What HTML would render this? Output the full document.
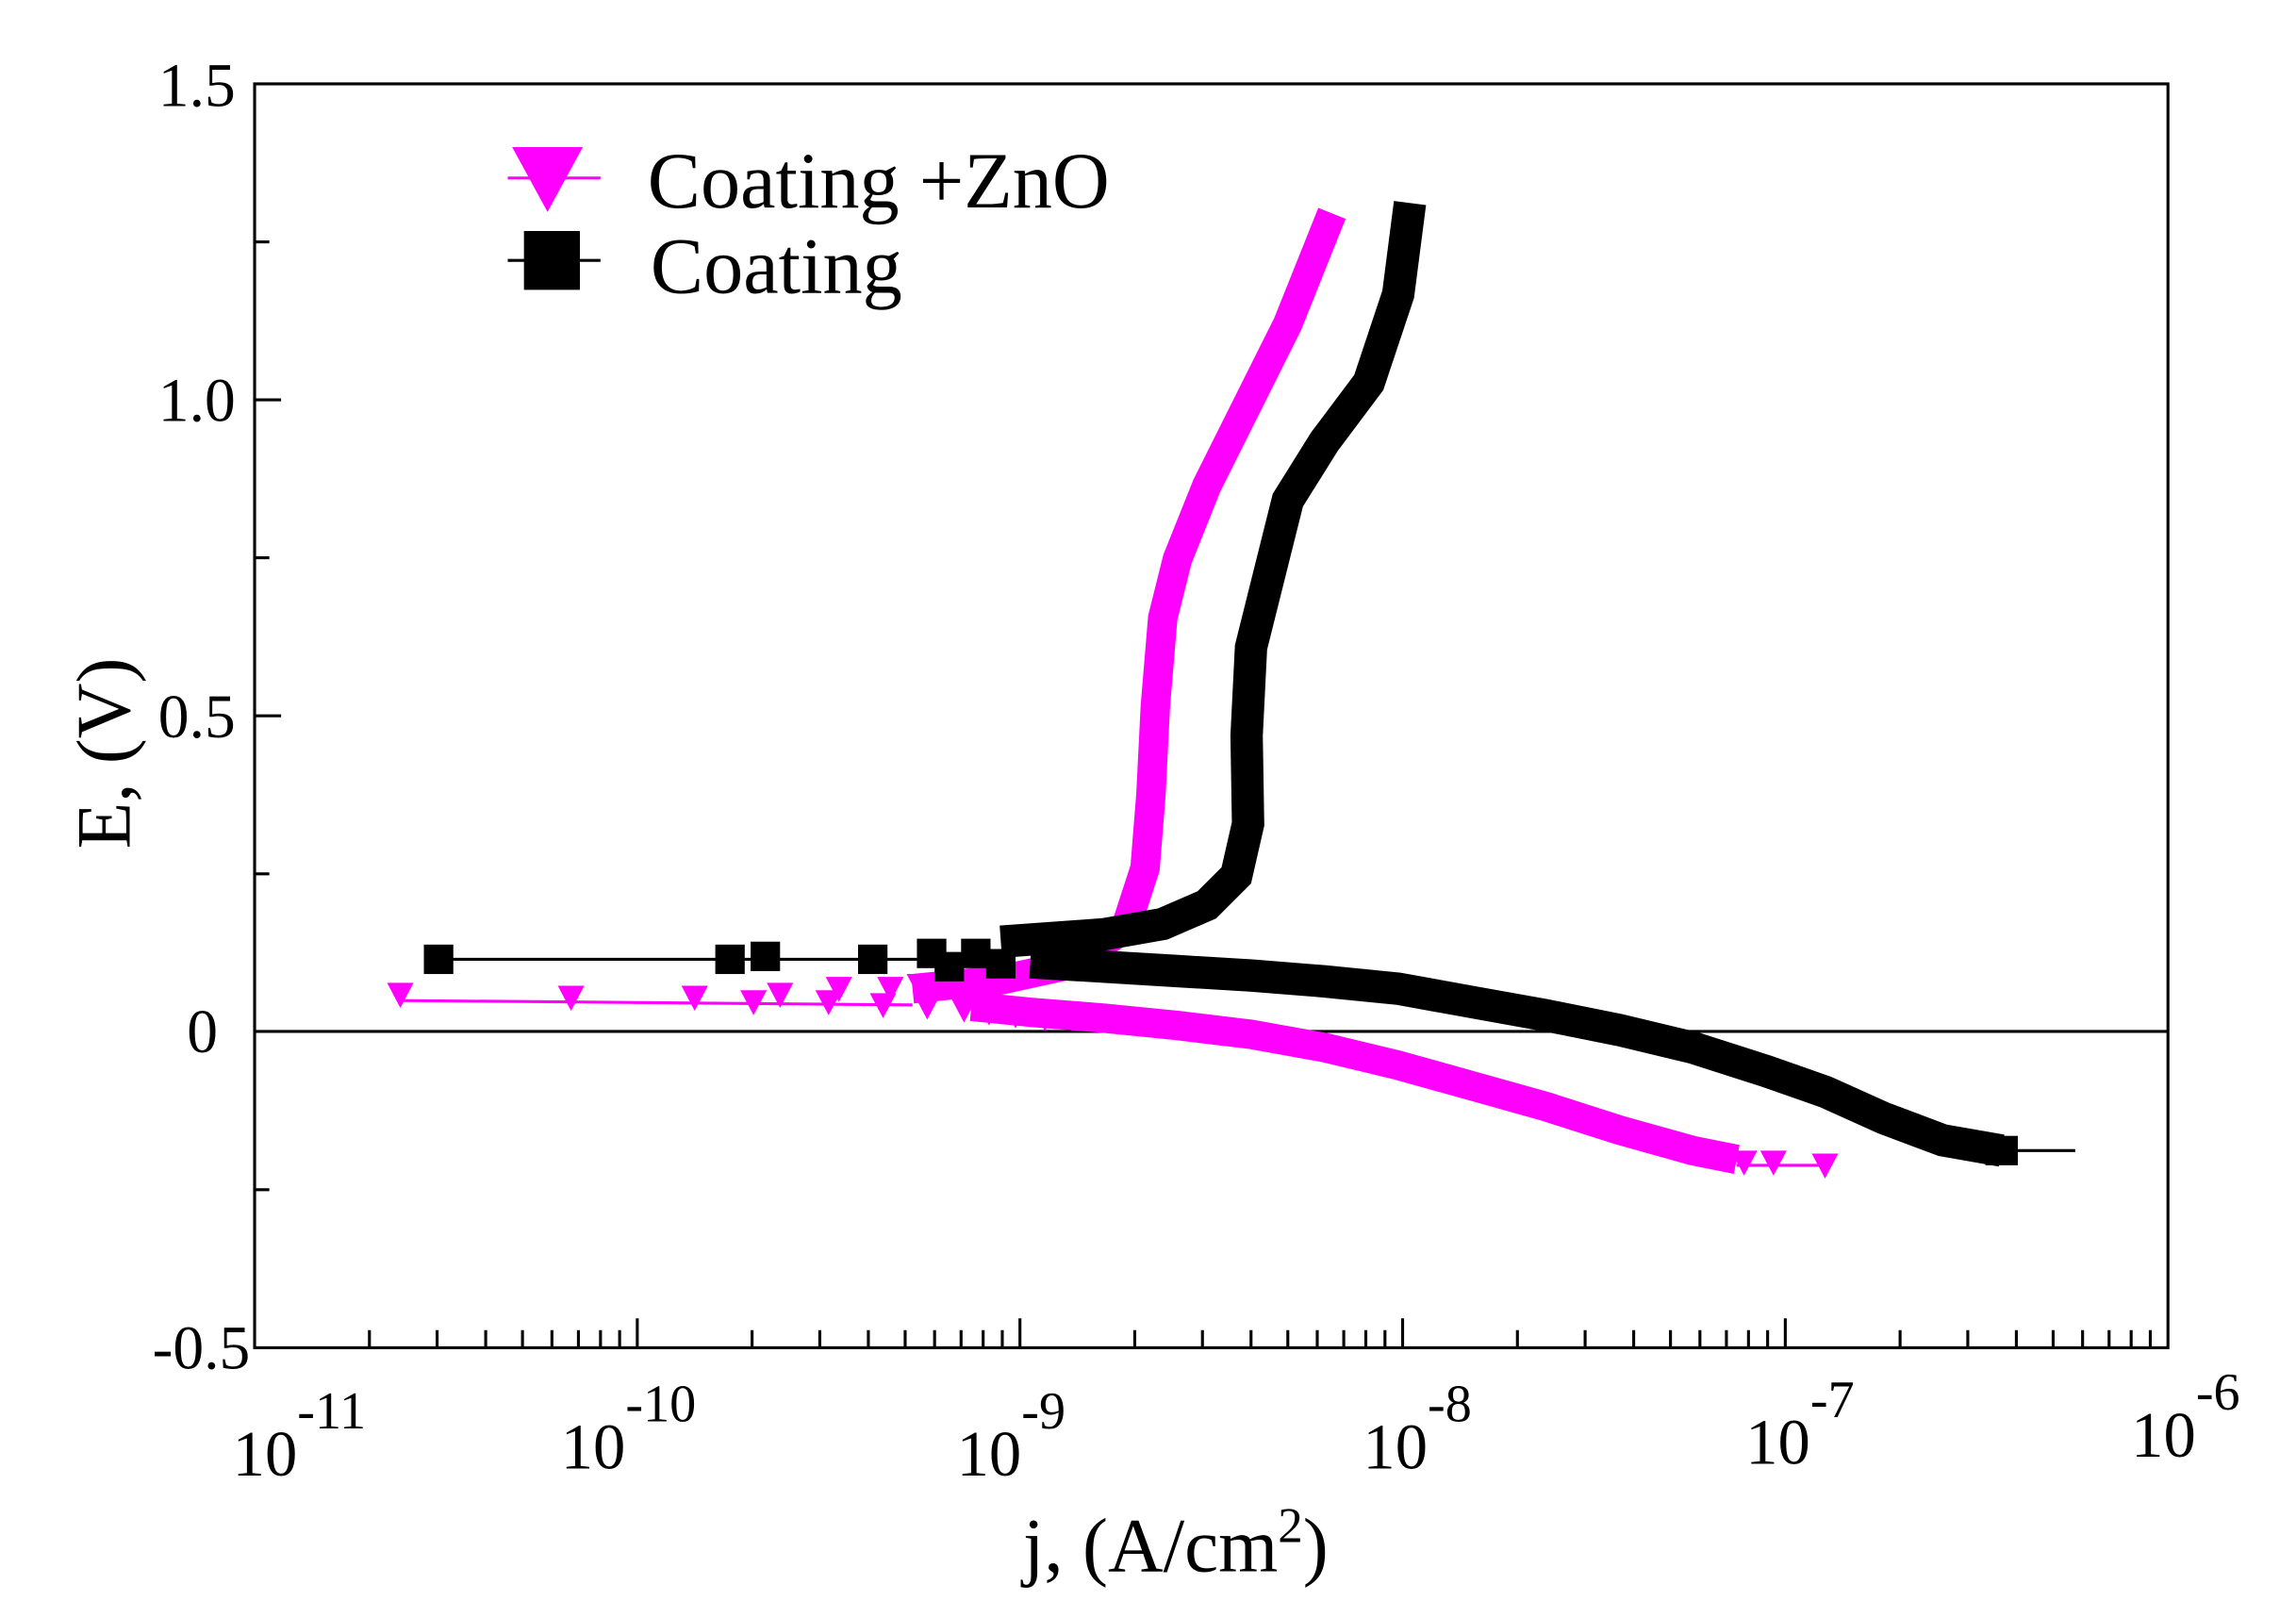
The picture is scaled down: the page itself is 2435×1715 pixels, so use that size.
<!DOCTYPE html>
<html><head><style>body{margin:0;background:#fff}svg{display:block}</style></head>
<body>
<svg width="2435" height="1715" viewBox="0 0 1560 1099" preserveAspectRatio="none" xmlns="http://www.w3.org/2000/svg" font-family="Liberation Serif, serif">
<rect x="173" y="57" width="1300" height="859" fill="none" stroke="#000" stroke-width="2"/>
<line x1="173" y1="701" x2="1473" y2="701" stroke="#000" stroke-width="2"/>
<g stroke="#000" stroke-width="2">
<path d="M433,916v-20M693,916v-20M953,916v-20M1213,916v-20"/>
<path d="M251,916v-12M297,916v-12M330,916v-12M355,916v-12M375,916v-12M393,916v-12M408,916v-12M421,916v-12
M511,916v-12M557,916v-12M590,916v-12M615,916v-12M635,916v-12M653,916v-12M668,916v-12M681,916v-12
M771,916v-12M817,916v-12M850,916v-12M875,916v-12M895,916v-12M913,916v-12M928,916v-12M941,916v-12
M1031,916v-12M1077,916v-12M1110,916v-12M1135,916v-12M1155,916v-12M1173,916v-12M1188,916v-12M1201,916v-12
M1291,916v-12M1337,916v-12M1370,916v-12M1395,916v-12M1415,916v-12M1433,916v-12M1448,916v-12M1461,916v-12"/>
<path d="M173,164.4h10M173,271.75h18M173,379.1h10M173,486.5h18M173,593.9h10M173,808.6h10"/>
</g>
<g font-size="42" text-anchor="end">
<text x="160" y="72">1.5</text><text x="160" y="286">1.0</text><text x="160" y="501">0.5</text><text x="148" y="715">0</text><text x="170" y="930">-0.5</text>
</g>
<g font-size="44">
<text x="158" y="1003">10<tspan dy="-32" font-size="36">-11</tspan></text>
<text x="381" y="998">10<tspan dy="-32" font-size="36">-10</tspan></text>
<text x="650" y="1003">10<tspan dy="-32" font-size="36">-9</tspan></text>
<text x="926" y="998">10<tspan dy="-32" font-size="36">-8</tspan></text>
<text x="1186" y="995">10<tspan dy="-32" font-size="36">-7</tspan></text>
<text x="1448" y="990">10<tspan dy="-32" font-size="36">-6</tspan></text>
</g>
<text x="695" y="1068" font-size="52">j, (A/cm<tspan dy="-20" font-size="34">2</tspan><tspan dy="20">)</tspan></text>
<text transform="translate(88,512) rotate(-90)" font-size="52" text-anchor="middle">E, (V)</text>
<!-- legend -->
<line x1="345" y1="121" x2="408" y2="121" stroke="#ff00ff" stroke-width="2"/>
<polygon points="348,100 396,100 372,144" fill="#ff00ff"/>
<text x="440" y="141" font-size="54">Coating +ZnO</text>
<line x1="345" y1="177" x2="408" y2="177" stroke="#000" stroke-width="2"/>
<rect x="356" y="157" width="38" height="40" fill="#000"/>
<text x="442" y="199" font-size="54">Coating</text>
<!-- pink -->
<polyline fill="none" stroke="#ff00ff" stroke-width="2" points="272,680 620,683"/>
<polyline fill="none" stroke="#ff00ff" stroke-width="2" points="1180,792 1240,792"/>
<polyline fill="none" stroke="#ff00ff" stroke-width="20" points="1180,788 1150,782 1100,768 1050,752 1000,738 950,724 900,712 850,703 800,697 750,692 700,688 660,684"/>
<polyline fill="none" stroke="#ff00ff" stroke-width="20" points="620,672 680,666 730,655 765,630 778,590 782,540 785,480 790,420 800,380 820,330 850,270 875,220 905,145"/>
<g fill="#ff00ff">
<polygon points="263,668 281,668 272,685"/><polygon points="379,670 397,670 388,687"/><polygon points="463,670 481,670 472,687"/>
<polygon points="503,673 521,673 512,690"/><polygon points="521,668 539,668 530,685"/><polygon points="554,673 572,673 563,690"/>
<polygon points="561,664 579,664 570,681"/><polygon points="591,675 609,675 600,692"/><polygon points="596,664 614,664 605,681"/>
<polygon points="621,676 639,676 630,693"/><polygon points="616,662 634,662 625,679"/><polygon points="646,678 664,678 655,695"/>
<polygon points="641,660 659,660 650,677"/><polygon points="663,680 681,680 672,697"/><polygon points="681,682 699,682 690,699"/>
<polygon points="701,684 719,684 710,701"/><polygon points="1176,782 1194,782 1185,799"/><polygon points="1196,782 1214,782 1205,799"/>
<polygon points="1231,784 1249,784 1240,801"/>
</g>
<!-- black -->
<polyline fill="none" stroke="#000" stroke-width="2" points="298,652 680,652"/>
<polyline fill="none" stroke="#000" stroke-width="2" points="1360,782 1410,782"/>
<polyline fill="none" stroke="#000" stroke-width="22" points="1360,782 1320,775 1280,760 1240,742 1200,728 1150,712 1100,700 1050,690 1000,681 950,672 900,667 850,663 800,660 750,657 700,654"/>
<polyline fill="none" stroke="#000" stroke-width="22" points="680,640 750,635 790,628 820,615 840,595 848,560 847,500 850,440 860,400 875,340 900,300 930,260 950,200 958,138"/>
<g fill="#000">
<rect x="288" y="642" width="20" height="20"/><rect x="486" y="642" width="20" height="20"/><rect x="510" y="640" width="20" height="20"/><rect x="583" y="642" width="20" height="20"/><rect x="623" y="638" width="20" height="20"/><rect x="653" y="638" width="20" height="20"/><rect x="670" y="645" width="20" height="20"/><rect x="635" y="647" width="20" height="20"/>
<rect x="1349" y="772" width="22" height="20"/>
</g>
</svg>
</body></html>
